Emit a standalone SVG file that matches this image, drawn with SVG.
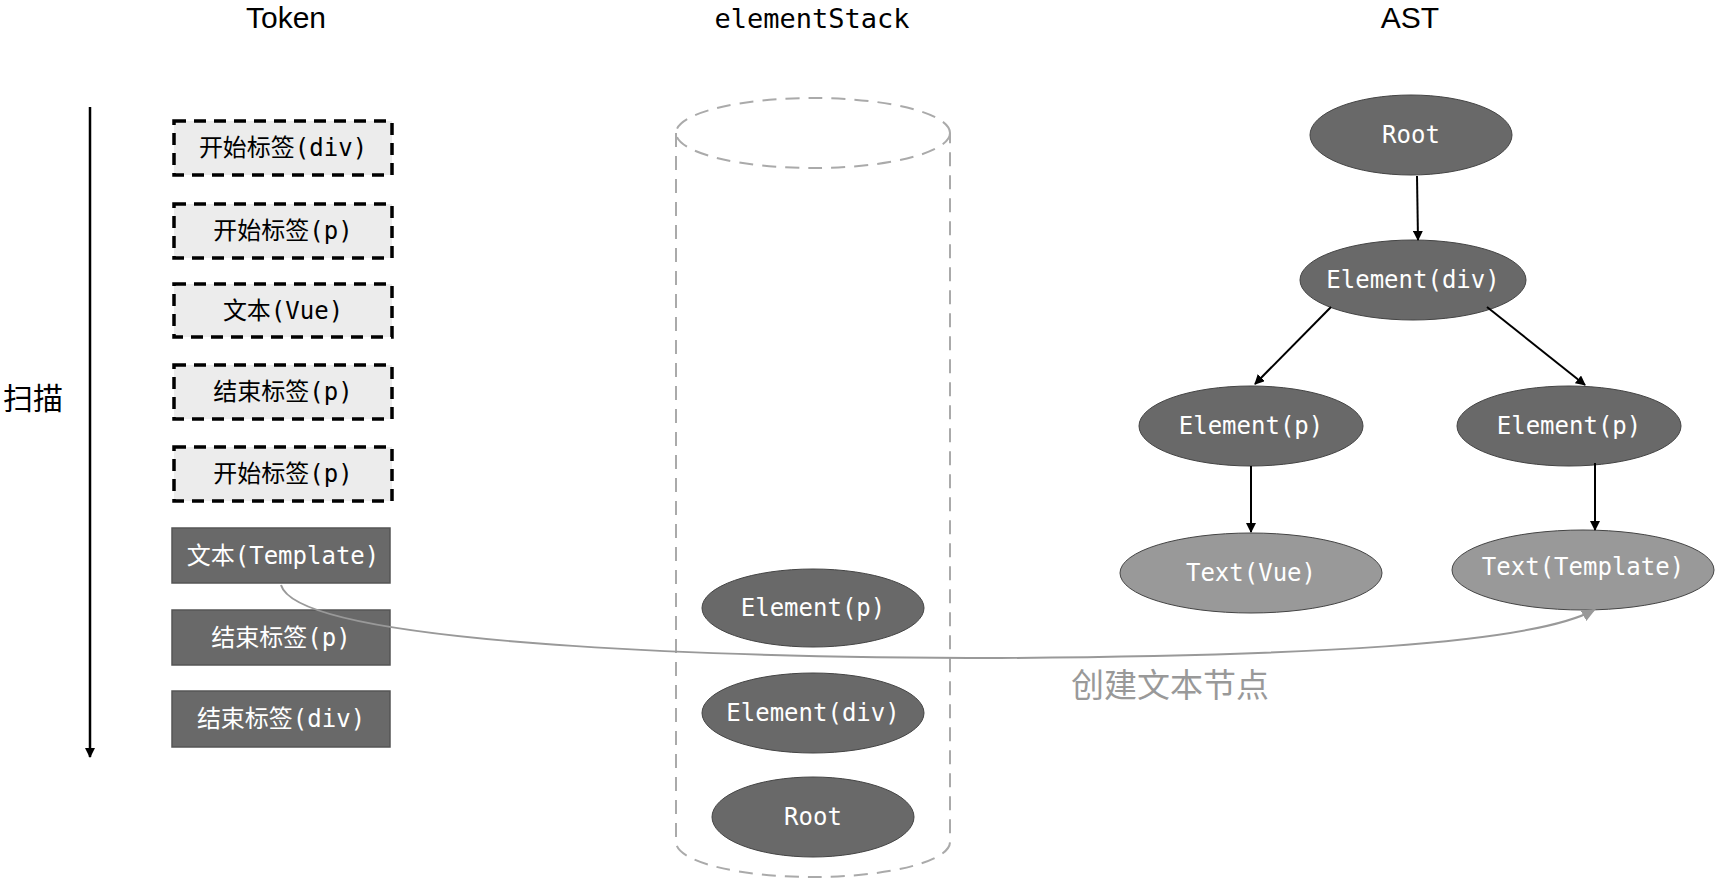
<svg xmlns="http://www.w3.org/2000/svg" width="1726" height="884" viewBox="0 0 1726 884">
<defs>
<style>
.t{font-family:"DejaVu Sans Mono","Noto Sans CJK SC",monospace;font-size:24px;text-anchor:middle;dominant-baseline:central}
.h{font-family:"Liberation Sans","Noto Sans CJK SC",sans-serif;font-size:30px;text-anchor:middle}
.lb{fill:#ececec;stroke:#000;stroke-width:3.5;stroke-dasharray:12,8}
.db{fill:#696969;stroke:#555;stroke-width:1.5}
.de{fill:#696969;stroke:#444;stroke-width:1}
.ge{fill:#999;stroke:#444;stroke-width:1}
.w{fill:#fff}
.k{fill:#000}
.e{stroke:#000;stroke-width:2;fill:none;marker-end:url(#a)}
</style>
<marker id="a" markerWidth="10" markerHeight="10" refX="9" refY="5" orient="auto" markerUnits="userSpaceOnUse"><path d="M0,0 L10,5 L0,10 z" fill="#000"/></marker>
<marker id="g" markerWidth="14" markerHeight="12" refX="12" refY="6" orient="auto" markerUnits="userSpaceOnUse"><path d="M0,0 L14,6 L0,12 z" fill="#999"/></marker>
</defs>
<rect width="1726" height="884" fill="#fff"/>
<text class="h" x="286" y="28">Token</text>
<text x="812" y="28" style="font-family:'DejaVu Sans Mono',monospace;font-size:27px;text-anchor:middle">elementStack</text>
<text class="h" x="1410" y="28">AST</text>
<text x="33" y="409" style="font-family:'Noto Sans CJK SC',sans-serif;font-size:30px;text-anchor:middle">扫描</text>
<g id="scan"><line x1="90" y1="107" x2="90" y2="757" stroke="#000" stroke-width="2.5" marker-end="url(#a)"/></g>
<g id="cyl" fill="none" stroke="#aaa" stroke-width="2" stroke-dasharray="14,9">
<ellipse cx="813" cy="133" rx="137" ry="35"/>
<path d="M676,133 V842 A137,35 0 0 0 950,842 V133"/>
</g>
<g id="tok1"><rect class="lb" x="174" y="121" width="218" height="54"/><text class="t k" x="283" y="148">开始标签(div)</text></g>
<g id="tok2"><rect class="lb" x="174" y="204" width="218" height="54"/><text class="t k" x="283" y="231">开始标签(p)</text></g>
<g id="tok3"><rect class="lb" x="174" y="284" width="218" height="53"/><text class="t k" x="283" y="311">文本(Vue)</text></g>
<g id="tok4"><rect class="lb" x="174" y="365" width="218" height="54"/><text class="t k" x="283" y="392">结束标签(p)</text></g>
<g id="tok5"><rect class="lb" x="174" y="447" width="218" height="54"/><text class="t k" x="283" y="474">开始标签(p)</text></g>
<g id="tok6"><rect class="db" x="172" y="528" width="218" height="55"/><text class="t w" x="283" y="556">文本(Template)</text></g>
<g id="tok7"><rect class="db" x="172" y="610" width="218" height="55"/><text class="t w" x="281" y="638">结束标签(p)</text></g>
<g id="tok8"><rect class="db" x="172" y="691" width="218" height="56"/><text class="t w" x="281" y="719">结束标签(div)</text></g>
<g id="s1"><ellipse class="de" cx="813" cy="608" rx="111" ry="39"/><text class="t w" x="813" y="608">Element(p)</text></g>
<g id="s2"><ellipse class="de" cx="813" cy="713" rx="111" ry="40"/><text class="t w" x="813" y="713">Element(div)</text></g>
<g id="s3"><ellipse class="de" cx="813" cy="817" rx="101" ry="40"/><text class="t w" x="813" y="817">Root</text></g>
<g id="a1"><ellipse class="de" cx="1411" cy="135" rx="101" ry="40"/><text class="t w" x="1411" y="135">Root</text></g>
<g id="a2"><ellipse class="de" cx="1413" cy="280" rx="113" ry="40"/><text class="t w" x="1413" y="280">Element(div)</text></g>
<g id="a3"><ellipse class="de" cx="1251" cy="426" rx="112" ry="40"/><text class="t w" x="1251" y="426">Element(p)</text></g>
<g id="a4"><ellipse class="de" cx="1569" cy="426" rx="112" ry="40"/><text class="t w" x="1569" y="426">Element(p)</text></g>
<g id="a5"><ellipse class="ge" cx="1251" cy="573" rx="131" ry="40"/><text class="t w" x="1251" y="573">Text(Vue)</text></g>
<g id="a6"><ellipse class="ge" cx="1583" cy="570" rx="131" ry="40"/><text class="t w" x="1583" y="567">Text(Template)</text></g>
<g id="connectors">
<line class="e" x1="1417" y1="176" x2="1418" y2="240"/>
<line class="e" x1="1331" y1="307" x2="1255" y2="384"/>
<line class="e" x1="1487" y1="307" x2="1585" y2="385"/>
<line class="e" x1="1251" y1="466" x2="1251" y2="532"/>
<line class="e" x1="1595" y1="463" x2="1595" y2="530"/>
<path d="M281,585 C300,650 800,658 1000,658 C1300,656 1530,645 1594,610" fill="none" stroke="#999" stroke-width="2" marker-end="url(#g)"/>
</g>
<text x="1170" y="697" style="font-family:'Noto Sans CJK SC',sans-serif;font-size:33px;fill:#999;text-anchor:middle">创建文本节点</text>
</svg>
